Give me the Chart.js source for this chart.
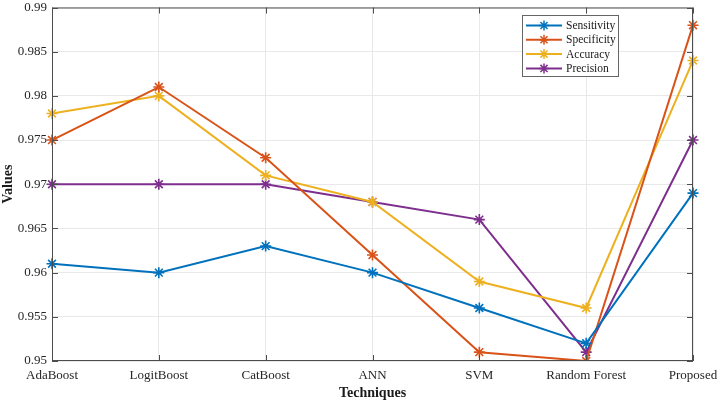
<!DOCTYPE html>
<html><head><meta charset="utf-8">
<script src="https://cdn.jsdelivr.net/npm/chart.js@4.4.0/dist/chart.umd.min.js"></script>
<style>html,body{margin:0;padding:0;background:#fff}</style>
</head><body><canvas id="c" width="720" height="405" style="display:block;width:720px;height:405px"></canvas>
<script>
const categories = ["AdaBoost","LogitBoost","CatBoost","ANN","SVM","Random Forest","Proposed"];
const sensitivity = [0.961,0.960,0.963,0.960,0.956,0.952,0.969];
const specificity = [0.975,0.981,0.973,0.962,0.951,0.950,0.988];
const accuracy    = [0.978,0.980,0.971,0.968,0.959,0.956,0.984];
const precision   = [0.970,0.970,0.970,0.968,0.966,0.951,0.975];
const seriesNames = ["Sensitivity","Specificity","Accuracy","Precision"];
const yTicks = [0.95,0.955,0.96,0.965,0.97,0.975,0.98,0.985,0.99];
const colors = ["#0072BD","#D95319","#EDB120","#7E2F8E"];
const FONT = "'Liberation Serif','Times New Roman',serif";

function ds(label, data, color){
  return {label, data, borderColor: color, backgroundColor: color, borderWidth: 2,
    pointStyle: 'star', pointRadius: 5.5, pointBorderWidth: 1.6, pointBorderColor: color,
    pointHoverRadius: 5.5, tension: 0, fill: false};
}

const boxPlugin = {
  id: 'box',
  afterDatasetsDraw(chart){
    const {ctx, chartArea: a, scales} = chart;
    ctx.save();
    ctx.strokeStyle = '#4d4d4d'; ctx.lineWidth = 1;
    ctx.strokeRect(a.left+0.5, a.top+0.5, a.right-a.left-1, a.bottom-a.top-1);
    const tl = 6;
    ctx.beginPath();
    scales.y.ticks.forEach(t => {
      const y = Math.round(scales.y.getPixelForValue(t.value))+0.5;
      ctx.moveTo(a.left, y); ctx.lineTo(a.left+tl, y);
      ctx.moveTo(a.right, y); ctx.lineTo(a.right-tl, y);
    });
    categories.forEach((c,i) => {
      const x = Math.round(scales.x.getPixelForValue(i))+0.5;
      ctx.moveTo(x, a.bottom); ctx.lineTo(x, a.bottom-tl);
      ctx.moveTo(x, a.top); ctx.lineTo(x, a.top+tl);
    });
    ctx.stroke();
    // legend
    const lx = 522, ly = 15, lw = 96, lh = 61;
    ctx.fillStyle = '#fff'; ctx.fillRect(lx, ly, lw, lh);
    ctx.strokeStyle = '#666'; ctx.strokeRect(lx+0.5, ly+0.5, lw, lh);
    ctx.font = "11.5px " + FONT; ctx.textBaseline = 'middle'; ctx.textAlign = 'left';
    chart.data.datasets.forEach((d, i) => {
      const y = ly + 10.5 + i*14.3;
      ctx.strokeStyle = d.borderColor; ctx.lineWidth = 2;
      ctx.beginPath(); ctx.moveTo(lx+4, y); ctx.lineTo(lx+40, y); ctx.stroke();
      ctx.lineWidth = 1.5;
      Chart.helpers.drawPoint(ctx, {pointStyle:'star', radius:5, borderWidth:1.5}, lx+22, y);
      ctx.fillStyle = '#1a1a1a';
      ctx.fillText(d.label, lx+44, y+0.5);
    });
    ctx.restore();
  }
};

new Chart(document.getElementById('c'), {
  type: 'line',
  data: {
    labels: categories,
    datasets: [
      ds(seriesNames[0], sensitivity, colors[0]),
      ds(seriesNames[1], specificity, colors[1]),
      ds(seriesNames[2], accuracy, colors[2]),
      ds(seriesNames[3], precision, colors[3])
    ]
  },
  options: {
    responsive: false, animation: false, devicePixelRatio: 1,
    layout: {padding: {top: 7.5, right: 27, left: 0, bottom: 0}},
    plugins: {legend: {display: false}, tooltip: {enabled: false}},
    scales: {
      x: {
        type: 'category', offset: false,
        grid: {color: '#e8e8e8', drawTicks: false, lineWidth: 1},
        border: {display: false},
        ticks: {autoSkip: false, maxRotation: 0, minRotation: 0, padding: 7, color: '#262626',
          font: {family: FONT, size: 13}},
        title: {display: true, text: 'Techniques', color: '#1a1a1a', padding: {top: 0, bottom: 3},
          font: {family: FONT, size: 14, weight: 'bold'}},
        afterFit(s){ s.height = 44; s.paddingLeft = 0; s.paddingRight = 0; }
      },
      y: {
        min: 0.95, max: 0.99,
        afterBuildTicks(s){ s.ticks = yTicks.map(v => ({value: v})); },
        grid: {color: '#e8e8e8', drawTicks: false, lineWidth: 1},
        border: {display: false},
        ticks: {autoSkip: false, padding: 5, color: '#262626', font: {family: FONT, size: 13},
          callback: v => String(parseFloat(v.toFixed(3)))},
        title: {display: true, text: 'Values', color: '#1a1a1a', padding: {top: 0, bottom: 2},
          font: {family: FONT, size: 14, weight: 'bold'}},
        afterFit(s){ s.width = 52; s.paddingTop = 0; s.paddingBottom = 0; }
      }
    }
  },
  plugins: [boxPlugin]
});
</script></body></html>
